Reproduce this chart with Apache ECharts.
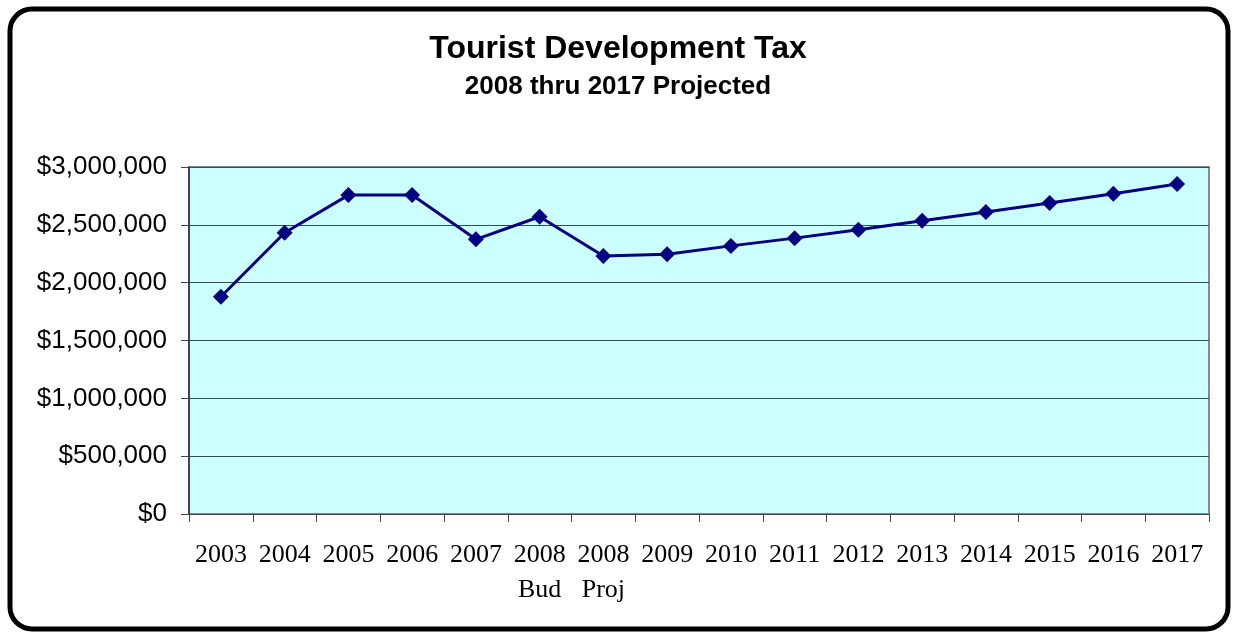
<!DOCTYPE html>
<html>
<head>
<meta charset="utf-8">
<script src="https://cdn.jsdelivr.net/npm/echarts@6/dist/echarts.min.js"></script>
<style>
html,body{margin:0;padding:0;background:#fff;}
#chart{width:1236px;height:635px;}
</style>
</head>
<body>
<div id="chart"></div>
<script>
const categories = ['2003','2004','2005','2006','2007','2008\nBud','2008\nProj','2009','2010','2011','2012','2013','2014','2015','2016','2017'];
const revenue = [1878000,2432000,2757000,2757000,2375000,2570000,2231000,2246000,2318000,2385000,2457000,2535000,2610000,2688000,2768000,2853000];
const yTicks = [0,500000,1000000,1500000,2000000,2500000,3000000];
const titleText = 'Tourist Development Tax';
const subtitleText = '2008 thru 2017 Projected';

const chart = echarts.init(document.getElementById('chart'), null, {renderer:'canvas'});
chart.setOption({
  animation: false,
  backgroundColor: '#ffffff',
  graphic: [{
    type: 'rect',
    shape: {x: 10, y: 9, width: 1218, height: 620, r: 22},
    style: {fill: 'none', stroke: '#000', lineWidth: 5},
    z: 0
  }],
  title: [{
    text: titleText,
    left: 'center',
    top: 28,
    textStyle: {fontFamily: 'Liberation Sans, Arial', fontWeight: 'bold', fontSize: 32, color: '#000'}
  },{
    text: subtitleText,
    left: 'center',
    top: 69,
    textStyle: {fontFamily: 'Liberation Sans, Arial', fontWeight: 'bold', fontSize: 26, color: '#000'}
  }],
  grid: {
    left: 189, right: 27, top: 167, bottom: 121,
    show: true, backgroundColor: '#CCFFFF', borderColor: '#888888', borderWidth: 2
  },
  xAxis: {
    type: 'category',
    data: categories,
    boundaryGap: true,
    axisLine: {show: true, lineStyle: {color: '#444', width: 1}},
    axisTick: {show: true, length: 8, alignWithLabel: false, lineStyle: {color: '#444'}},
    axisLabel: {
      interval: 0, margin: 24,
      fontFamily: 'Liberation Serif, Times New Roman', fontSize: 26, color: '#000',
      lineHeight: 35
    }
  },
  yAxis: {
    type: 'value',
    min: 0, max: 3000000, interval: 500000,
    axisLine: {show: true, lineStyle: {color: '#444', width: 2}},
    axisTick: {show: true, length: 8, lineStyle: {color: '#444'}},
    splitLine: {show: true, lineStyle: {color: '#2f4f4f', width: 1}},
    axisLabel: {
      margin: 22,
      fontFamily: 'Liberation Sans, Arial', fontSize: 26, color: '#000',
      formatter: v => '$' + v.toLocaleString('en-US')
    }
  },
  series: [{
    type: 'line',
    data: revenue,
    symbol: 'diamond',
    symbolSize: 16,
    lineStyle: {color: '#000080', width: 3},
    itemStyle: {color: '#000080'},
    z: 5
  }]
});
</script>
</body>
</html>
